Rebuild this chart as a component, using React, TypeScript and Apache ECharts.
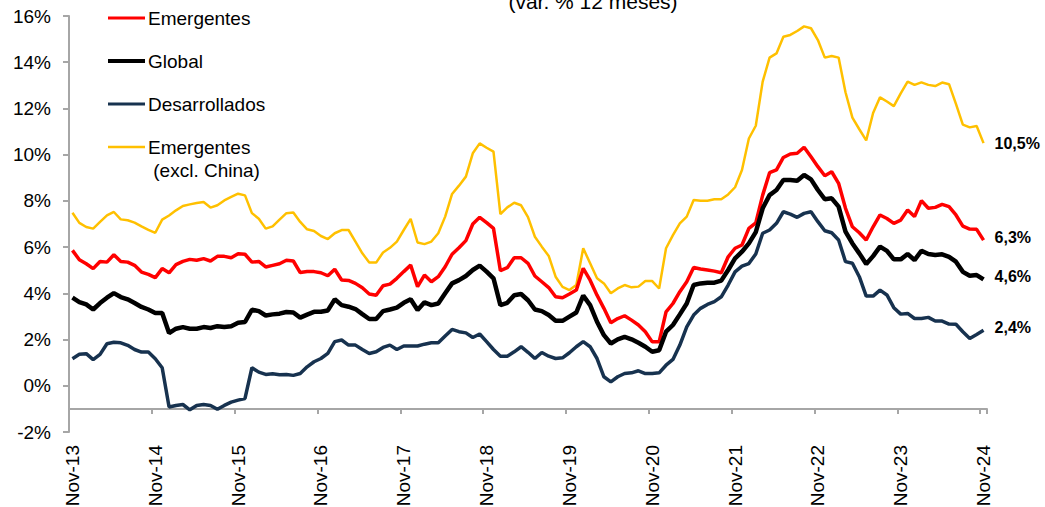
import React, { useEffect, useRef } from "react";
import * as echarts from "echarts";

const MONTHS = ["Nov", "Dic", "Ene", "Feb", "Mar", "Abr", "May", "Jun", "Jul", "Ago", "Sep", "Oct"];
const N_MONTHS = 133;
const CATEGORIES: string[] = [];
for (let i = 0; i < N_MONTHS; i++) {
  const yy = 13 + Math.floor((i + 10) / 12);
  CATEGORIES.push(MONTHS[i % 12] + "-" + yy);
}

const TITLE = "(var. % 12 meses)";

const EMERGENTES = [
  5.86, 5.45, 5.28, 5.07, 5.38, 5.35, 5.67, 5.38, 5.35, 5.21, 4.92, 4.82,
  4.68, 5.07, 4.89, 5.24, 5.38, 5.47, 5.43, 5.5, 5.4, 5.6, 5.6, 5.54,
  5.71, 5.69, 5.35, 5.38, 5.14, 5.21, 5.28, 5.43, 5.4, 4.9, 4.94, 4.94,
  4.89, 4.76, 5.04, 4.58, 4.56, 4.43, 4.24, 3.97, 3.92, 4.33, 4.4, 4.65,
  4.94, 5.22, 4.29, 4.79, 4.5, 4.72, 5.15, 5.69, 5.97, 6.28, 7.0, 7.29,
  7.06, 6.81, 4.98, 5.11, 5.54, 5.54, 5.3, 4.75, 4.5, 4.25, 3.85, 3.81,
  3.97, 4.14, 5.08, 4.57, 3.92, 3.35, 2.73, 2.91, 3.03, 2.84, 2.63, 2.34,
  1.9, 1.9, 3.2, 3.56, 4.07, 4.5, 5.12, 5.05, 5.01, 4.96, 4.89, 5.58,
  5.95, 6.09, 6.81, 7.05, 8.25, 9.22, 9.34, 9.88, 10.03, 10.06, 10.32, 9.91,
  9.48, 9.09, 9.26, 8.76, 7.68, 6.88, 6.62, 6.31, 6.88, 7.39, 7.24, 7.03,
  7.17, 7.61, 7.32, 8.01, 7.68, 7.72, 7.85, 7.75, 7.39, 6.91, 6.78, 6.77, 6.3,
];

const GLOBAL = [
  3.81, 3.62, 3.52, 3.3, 3.58, 3.81, 4.01, 3.84, 3.74, 3.58, 3.41, 3.3,
  3.15, 3.15, 2.28, 2.47, 2.54, 2.47, 2.47, 2.54, 2.5, 2.58, 2.54, 2.58,
  2.73, 2.76, 3.29, 3.23, 3.04, 3.09, 3.12, 3.19, 3.17, 2.95, 3.08, 3.2,
  3.2, 3.26, 3.74, 3.49, 3.42, 3.32, 3.1, 2.89, 2.89, 3.23, 3.3, 3.38,
  3.59, 3.74, 3.28, 3.61, 3.49, 3.56, 4.0, 4.43, 4.57, 4.75, 5.01, 5.2,
  4.94, 4.65, 3.49, 3.59, 3.92, 3.97, 3.7, 3.3, 3.23, 3.06, 2.81, 2.81,
  2.99, 3.17, 3.9, 3.49, 2.77, 2.19, 1.83, 2.01, 2.12, 2.01, 1.86, 1.69,
  1.47, 1.54, 2.34, 2.63, 3.09, 3.56, 4.36, 4.43, 4.46, 4.46, 4.55, 5.01,
  5.51, 5.8, 6.16, 6.65, 7.68, 8.25, 8.47, 8.9, 8.9, 8.87, 9.12, 8.93,
  8.47, 8.07, 8.11, 7.75, 6.67, 6.16, 5.73, 5.27, 5.61, 6.02, 5.84, 5.47,
  5.47, 5.7, 5.44, 5.84, 5.7, 5.66, 5.69, 5.58, 5.37, 4.93, 4.76, 4.79, 4.6,
];

const DESARROLLADOS = [
  1.17, 1.36, 1.39, 1.13, 1.36, 1.82, 1.88, 1.86, 1.75, 1.57, 1.46, 1.46,
  1.17, 0.78, -0.92, -0.85, -0.81, -1.04, -0.85, -0.81, -0.85, -1.02, -0.85, -0.71,
  -0.62, -0.55, 0.78, 0.59, 0.49, 0.52, 0.48, 0.49, 0.45, 0.53, 0.82, 1.04,
  1.18, 1.4, 1.91, 1.98, 1.76, 1.76, 1.57, 1.4, 1.47, 1.66, 1.76, 1.57,
  1.72, 1.72, 1.72, 1.8, 1.86, 1.86, 2.15, 2.44, 2.34, 2.29, 2.09, 2.24,
  1.91, 1.57, 1.28, 1.28, 1.47, 1.69, 1.45, 1.18, 1.44, 1.28, 1.18, 1.21,
  1.43, 1.69, 1.91, 1.69, 1.18, 0.39, 0.17, 0.39, 0.53, 0.56, 0.65, 0.53,
  0.53, 0.56, 0.89, 1.14, 1.76, 2.55, 3.06, 3.35, 3.52, 3.64, 3.85, 4.36,
  4.93, 5.18, 5.29, 5.7, 6.6, 6.74, 7.03, 7.53, 7.43, 7.29, 7.46, 7.53,
  7.1, 6.71, 6.62, 6.31, 5.37, 5.3, 4.72, 3.88, 3.88, 4.14, 3.93, 3.38,
  3.1, 3.13, 2.91, 2.91, 2.96, 2.8, 2.8, 2.67, 2.66, 2.34, 2.05, 2.22, 2.4,
];

const EM_EXCL_CHINA = [
  7.49, 7.05, 6.87, 6.8, 7.09, 7.37, 7.52, 7.2, 7.16, 7.06, 6.9, 6.75,
  6.62, 7.19, 7.37, 7.59, 7.78, 7.85, 7.91, 7.95, 7.71, 7.81, 8.02, 8.17,
  8.31, 8.24, 7.47, 7.23, 6.8, 6.9, 7.19, 7.47, 7.5, 7.09, 6.77, 6.7,
  6.48, 6.35, 6.6, 6.74, 6.74, 6.24, 5.73, 5.33, 5.33, 5.77, 5.97, 6.24,
  6.74, 7.22, 6.2, 6.13, 6.24, 6.6, 7.32, 8.3, 8.66, 9.05, 10.06, 10.49,
  10.3, 10.13, 7.43, 7.72, 7.92, 7.81, 7.3, 6.45, 6.02, 5.62, 4.72, 4.28,
  4.14, 4.36, 5.95, 5.3, 4.65, 4.43, 4.0, 4.21, 4.36, 4.26, 4.29, 4.53,
  4.53, 4.21, 5.95, 6.52, 7.03, 7.32, 8.04, 8.01, 8.01, 8.07, 8.07, 8.28,
  8.59, 9.34, 10.7, 11.25, 13.16, 14.2, 14.38, 15.1, 15.18, 15.35, 15.55, 15.47,
  14.96, 14.2, 14.27, 14.2, 12.7, 11.6, 11.1, 10.62, 11.8, 12.48, 12.3, 12.1,
  12.65, 13.16, 13.02, 13.13, 13.02, 12.97, 13.12, 13.05, 12.2, 11.3, 11.18, 11.24, 10.5,
];

const SERIES_NAMES = ["Emergentes", "Global", "Desarrollados", "Emergentes (excl. China)"];
const END_LABELS = ["6,3%", "4,6%", "2,4%", "10,5%"];

const FONT = '"Liberation Sans", Arial, Helvetica, sans-serif';
const AXIS_GRAY = "#A6A6A6";
const RED = "#FF0000";
const BLACK = "#000000";
const NAVY = "#17324F";
const YELLOW = "#FFC000";

export default function App() {
  const ref = useRef<HTMLDivElement>(null);

  useEffect(() => {
    if (!ref.current) return;
    const chart = echarts.init(ref.current, null, { renderer: "svg" });

    const endLabel = (text: string, dy: number) => ({
      show: true,
      formatter: text,
      color: "#000",
      fontWeight: "bold",
      fontSize: 16,
      fontFamily: FONT,
      distance: 11,
      offset: [0, dy],
    });

    const legendItem = (y: number, color: string, width: number, text: string) => [
      {
        type: "line",
        shape: { x1: 108, y1: y, x2: 145, y2: y },
        style: { stroke: color, lineWidth: width },
        silent: true,
      },
      {
        type: "text",
        x: 148,
        y: y,
        style: {
          text,
          fill: "#000",
          font: `19px ${FONT}`,
          textAlign: "left",
          textVerticalAlign: "middle",
          align: "left",
          verticalAlign: "middle",
        },
        silent: true,
      },
    ];

    chart.setOption({
      animation: false,
      backgroundColor: "#ffffff",
      grid: { left: 69, right: 58, top: 16, bottom: 75, containLabel: false, outerBoundsMode: "none" },
      xAxis: {
        type: "category",
        data: CATEGORIES,
        boundaryGap: true,
        offset: -23,
        axisLine: { show: true, onZero: false, lineStyle: { color: AXIS_GRAY, width: 2 } },
        axisTick: { show: true, interval: 11, length: 5, lineStyle: { color: AXIS_GRAY, width: 2 } },
        axisLabel: {
          interval: 11,
          rotate: 90,
          margin: 36,
          fontSize: 19,
          fontFamily: FONT,
          color: "#000",
        },
        splitLine: { show: false },
      },
      yAxis: {
        type: "value",
        min: -2,
        max: 16,
        interval: 2,
        axisLine: { show: true, lineStyle: { color: AXIS_GRAY, width: 2 } },
        axisTick: { show: true, length: 6, lineStyle: { color: AXIS_GRAY, width: 2 } },
        axisLabel: { formatter: "{value}%", margin: 18, fontSize: 19, fontFamily: FONT, color: "#000" },
        splitLine: { show: false },
      },
      series: [
        {
          type: "line",
          name: SERIES_NAMES[3],
          data: EM_EXCL_CHINA,
          symbol: "none",
          lineStyle: { color: YELLOW, width: 2.5 },
          itemStyle: { color: YELLOW },
          z: 2,
          endLabel: endLabel(END_LABELS[3], 0),
        },
        {
          type: "line",
          name: SERIES_NAMES[2],
          data: DESARROLLADOS,
          symbol: "none",
          lineStyle: { color: NAVY, width: 3.5 },
          itemStyle: { color: NAVY },
          z: 3,
          endLabel: endLabel(END_LABELS[2], -3),
        },
        {
          type: "line",
          name: SERIES_NAMES[0],
          data: EMERGENTES,
          symbol: "none",
          lineStyle: { color: RED, width: 3.5 },
          itemStyle: { color: RED },
          z: 4,
          endLabel: endLabel(END_LABELS[0], -3),
        },
        {
          type: "line",
          name: SERIES_NAMES[1],
          data: GLOBAL,
          symbol: "none",
          lineStyle: { color: BLACK, width: 4.5 },
          itemStyle: { color: BLACK },
          z: 5,
          endLabel: endLabel(END_LABELS[1], -3),
        },
      ],
      graphic: [
        {
          type: "text",
          x: 593,
          y: 1.5,
          style: {
            text: TITLE,
            fill: "#000",
            font: `21px ${FONT}`,
            textAlign: "center",
            textVerticalAlign: "middle",
            align: "center",
            verticalAlign: "middle",
          },
          silent: true,
        },
        ...legendItem(18, RED, 3, SERIES_NAMES[0]),
        ...legendItem(61, BLACK, 4, SERIES_NAMES[1]),
        ...legendItem(104, NAVY, 3, SERIES_NAMES[2]),
        ...legendItem(147, YELLOW, 2.5, "Emergentes"),
        {
          type: "text",
          x: 148,
          y: 170,
          style: {
            text: " (excl. China)",
            fill: "#000",
            font: `19px ${FONT}`,
            textAlign: "left",
            textVerticalAlign: "middle",
            align: "left",
            verticalAlign: "middle",
          },
          silent: true,
        },
      ],
    });

    return () => {
      chart.dispose();
    };
  }, []);

  return (
    <div
      ref={ref}
      style={{ position: "fixed", left: 0, top: 0, width: 1045, height: 507, background: "#fff" }}
    />
  );
}
